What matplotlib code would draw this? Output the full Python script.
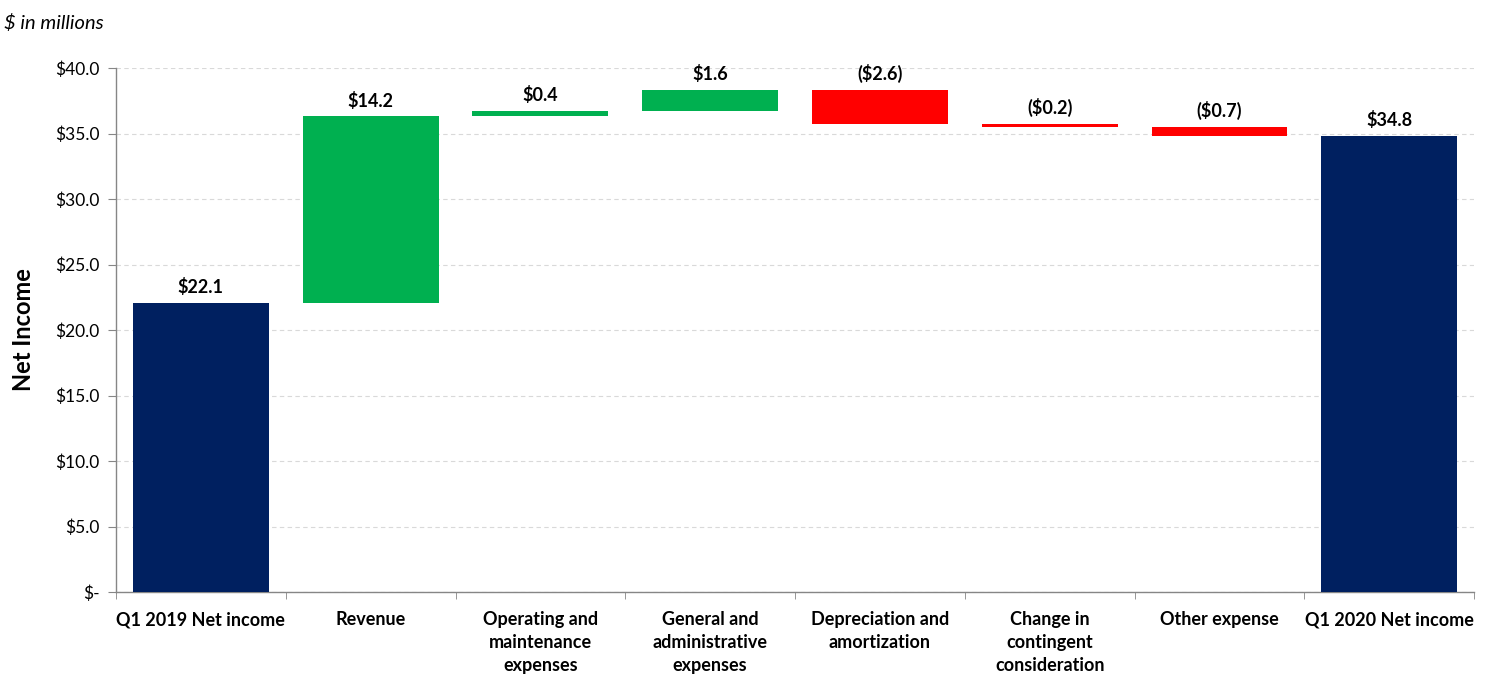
import matplotlib
matplotlib.use("Agg")
import matplotlib.pyplot as plt
from matplotlib.ticker import FixedLocator, FuncFormatter

categories = ["Q1 2019 Net income", "Revenue", "Operating and\nmaintenance\nexpenses",
              "General and\nadministrative\nexpenses", "Depreciation and\namortization",
              "Change in\ncontingent\nconsideration", "Other expense", "Q1 2020 Net income"]
start_value = 22.1
changes = [14.2, 0.4, 1.6, -2.6, -0.2, -0.7]
end_value = 34.8
labels = ["$22.1", "$14.2", "$0.4", "$1.6", "($2.6)", "($0.2)", "($0.7)", "$34.8"]
yticks = [0, 5, 10, 15, 20, 25, 30, 35, 40]

NAVY = "#002060"
GREEN = "#00B050"
RED = "#FF0000"

plt.rcParams['font.family'] = ['Lato', 'DejaVu Sans']

fig = plt.figure(figsize=(14.89, 6.83), dpi=100)
ax = fig.add_axes([0.0779, 0.1332, 0.9121, 0.7672])

bottoms, heights, colors, tops = [], [], [], []
bottoms.append(0); heights.append(start_value); colors.append(NAVY); tops.append(start_value)
run = start_value
for c in changes:
    if c >= 0:
        bottoms.append(run); heights.append(c); colors.append(GREEN)
    else:
        bottoms.append(run + c); heights.append(-c); colors.append(RED)
    tops.append(max(run, run + c))
    run += c
bottoms.append(0); heights.append(end_value); colors.append(NAVY); tops.append(end_value)

x = list(range(len(categories)))
ax.bar(x, heights, bottom=bottoms, width=0.8, color=colors, zorder=3)
for i, (t, lab) in enumerate(zip(tops, labels)):
    ax.annotate(lab, (i, t), xytext=(0, 5), textcoords="offset points",
                ha="center", va="bottom", fontsize=13, fontweight="bold", color="black")

ax.set_xlim(-0.5, len(categories) - 0.5)
ax.set_ylim(0, 40)
ax.yaxis.set_major_locator(FixedLocator(yticks))
ax.yaxis.set_major_formatter(FuncFormatter(lambda v, p: "$-" if v == 0 else f"${v:.1f}"))
ax.grid(axis="y", color="#D9D9D9", linestyle=(0, (4, 3)), linewidth=0.8, zorder=0)

ax.set_xticks(x)
ax.set_xticklabels(categories, fontsize=13, fontweight="bold", linespacing=1.4, va="top")
ax.tick_params(axis="x", which="major", length=0, pad=14)
ax.set_xticks([i + 0.5 for i in range(-1, len(categories))], minor=True)
ax.tick_params(axis="x", which="minor", length=5, color="#868686")
ax.tick_params(axis="y", length=6, color="#868686", labelsize=12.5, pad=6)

for s in ["top", "right"]:
    ax.spines[s].set_visible(False)
for s in ["left", "bottom"]:
    ax.spines[s].set_color("#868686")
    ax.spines[s].set_linewidth(1)

ax.set_ylabel("Net Income", fontsize=17, fontweight="bold", labelpad=14)
fig.text(0.003, 0.967, "$ in millions", fontsize=14.5, fontstyle="italic", ha="left", va="center")

fig.savefig("out.png", dpi=100)
